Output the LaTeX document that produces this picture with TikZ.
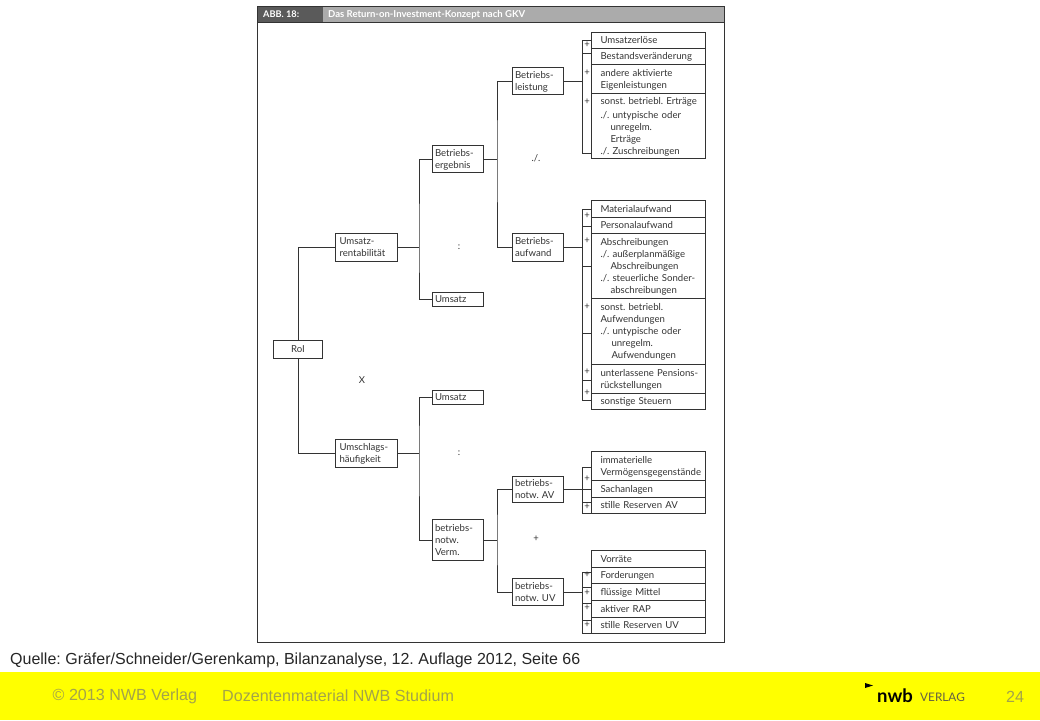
\documentclass[tikz,border=0pt]{standalone}
\usepackage{fontspec}
\setmainfont{Lato}
\newfontfamily\arialfont{Liberation Sans}
\definecolor{inkgray}{HTML}{333333}
\definecolor{footgray}{HTML}{A3A34A}
\definecolor{footyellow}{HTML}{FFFF00}
\definecolor{headdark}{HTML}{5A5A5A}
\definecolor{headlight}{HTML}{ABABAB}
\tikzset{
  link/.style={draw=inkgray,line width=1pt},
  box/.style={draw=inkgray,line width=1pt,anchor=north west,inner sep=0pt,text=inkgray,
    font=\frenchspacing\fontsize{9.6}{12}\selectfont,align=left,
    execute at begin node={\rule{0pt}{10.4pt}},execute at end node=\strut},
  rowbox/.style={box,minimum width=114pt,text width=96pt},
  smalltext/.style={text=inkgray,font=\fontsize{9.5}{12}\selectfont,inner sep=0pt},
}
\begin{document}
\begin{tikzpicture}[x=1pt,y=-1pt]
    \useasboundingbox (0,0) rectangle (1040,720);
    \fill [footyellow] (0,672) rectangle (1040,720);
    % frame and title
    \fill [headdark] (257,6) rectangle (323,22);
    \fill [headlight] (323,6) rectangle (724,22);
    \draw [inkgray,line width=.8pt] (257,6) rectangle (724,642);
    \draw [inkgray,line width=.8pt] (257,22) -- (724,22);
    \node [anchor=west,inner sep=0pt,white,font=\frenchspacing\fontsize{9.2}{11}\bfseries\selectfont] (abb) at (263,14.5) {ABB. 18:};
    \node [anchor=west,inner sep=0pt,white,font=\frenchspacing\fontsize{9.55}{11}\bfseries\selectfont] (title) at (328,14.5) {Das Return-on-Investment-Konzept nach GKV};
    % tree boxes
    \node [box,minimum width=49pt,minimum height=18pt,align=center] (roi) at (273,339.5) {RoI};
    \node [box,minimum width=62pt,minimum height=28pt,text width=54pt] (urent) at (335,233) {Umsatz-\\rentabilität};
    \node [box,minimum width=62pt,minimum height=28pt,text width=54pt] (uhaeu) at (335,439) {Umschlags-\\häufigkeit};
    \node [box,minimum width=51pt,minimum height=27pt,text width=46pt] (berg) at (432,145) {Betriebs-\\ergebnis};
    \node [box,minimum width=51pt,minimum height=14pt,text width=46pt] (umsa) at (432,291.5) {Umsatz};
    \node [box,minimum width=51pt,minimum height=14pt,text width=46pt] (umsb) at (432,390) {Umsatz};
    \node [box,minimum width=51pt,minimum height=41pt,text width=46pt] (verm) at (432,519) {betriebs-\\notw.\\Verm.};
    \node [box,minimum width=51pt,minimum height=27pt,text width=46pt] (blei) at (512,67) {Betriebs-\\leistung};
    \node [box,minimum width=51pt,minimum height=28pt,text width=46pt] (bauf) at (512,233) {Betriebs-\\aufwand};
    \node [box,minimum width=51pt,minimum height=26pt,text width=46pt] (nav) at (512,476) {betriebs-\\notw. AV};
    \node [box,minimum width=51pt,minimum height=27pt,text width=46pt] (nuv) at (512,578) {betriebs-\\notw. UV};
    % first stack
    \node [rowbox,minimum height=16pt] (ra) at (591,32) {Umsatzerlöse};
    \node [rowbox,minimum height=16pt] (rb) at (591,48) {Bestandsveränderung};
    \node [rowbox,minimum height=29pt] (rc) at (591,64) {andere aktivierte\\Eigenleistungen};
    \node [rowbox,minimum height=65pt] (rd) at (591,93) {\mbox{sonst. betriebl. Erträge}\\[2pt]./. untypische oder\\\hspace*{10pt}unregelm.\\\hspace*{10pt}Erträge\\./. Zuschreibungen};
    % second stack
    \node [rowbox,minimum height=17pt] (re) at (591,200) {Materialaufwand};
    \node [rowbox,minimum height=16pt] (rf) at (591,217) {Personalaufwand};
    \node [rowbox,minimum height=65pt] (rg) at (591,233) {Abschreibungen\\./. außerplanmäßige\\\hspace*{10pt}Abschreibungen\\./. steuerliche Sonder-\\\hspace*{10pt}abschreibungen};
    \node [rowbox,minimum height=66pt] (rh) at (591,298) {sonst. betriebl.\\Aufwendungen\\./. untypische oder\\\hspace*{11pt}unregelm.\\\hspace*{11pt}Aufwendungen};
    \node [rowbox,minimum height=29pt] (ri) at (591,364) {\mbox{unterlassene Pensions-}\\rückstellungen};
    \node [rowbox,minimum height=16pt] (rj) at (591,393) {sonstige Steuern};
    % third stack
    \node [rowbox,minimum height=29pt] (rk) at (591,451) {immaterielle\\\mbox{Vermögensgegenstände}};
    \node [rowbox,minimum height=17pt] (rl) at (591,480) {Sachanlagen};
    \node [rowbox,minimum height=16pt] (rm) at (591,497) {stille Reserven AV};
    % fourth stack
    \node [rowbox,minimum height=17pt] (rn) at (591,550) {Vorräte};
    \node [rowbox,minimum height=16pt] (ro) at (591,567) {Forderungen};
    \node [rowbox,minimum height=17pt] (rp) at (591,583) {flüssige Mittel};
    \node [rowbox,minimum height=17pt] (rq) at (591,600) {aktiver RAP};
    \node [rowbox,minimum height=16pt] (rr) at (591,617) {stille Reserven UV};
    % tree connectors
    \coordinate (trunka) at (419,247);
    \coordinate (trunkb) at (419,453);
    \coordinate (trunkc) at (497,158);
    \coordinate (trunkd) at (497,539);
    \draw [link] (urent.west) -| (roi.north);
    \draw [link] (uhaeu.west) -| (roi.south);
    \draw [link] (urent.east) -- (urent.east -| trunka);
    \draw [link] (berg.west) -| (trunka) |- (umsa.west);
    \draw [link] (uhaeu.east) -- (uhaeu.east -| trunkb);
    \draw [link] (umsb.west) -| (trunkb) |- (verm.west);
    \draw [link] (berg.east) -- (berg.east -| trunkc);
    \draw [link] (blei.west) -| (trunkc) |- (bauf.west);
    \draw [link] (verm.east) -- (verm.east -| trunkd);
    \draw [link] (nav.west) -| (trunkd) |- (nuv.west);
    % brackets
    \coordinate (ka) at (582,40);
    \coordinate (kb) at (582,53);
    \coordinate (kc) at (582,153);
    \draw [link] (ka -| ra.west) -- (ka) -- (kc) -- (kc -| rd.west);
    \draw [link] (kb) -- (kb -| ra.west);
    \draw [link] (blei.east) -- (blei.east -| ka);
    \coordinate (kd) at (582,209);
    \coordinate (ke) at (582,226);
    \coordinate (kf) at (582,266);
    \coordinate (kg) at (582,333);
    \coordinate (kh) at (582,380);
    \coordinate (ki) at (582,400);
    \draw [link] (kd -| re.west) -- (kd) -- (ki) -- (ki -| rj.west);
    \draw [link] (ke) -- (ke -| rf.west);
    \draw [link] (kf) -- (kf -| rg.west);
    \draw [link] (kg) -- (kg -| rh.west);
    \draw [link] (kh) -- (kh -| ri.west);
    \draw [link] (bauf.east) -- (bauf.east -| kd);
    \coordinate (kj) at (582,467);
    \coordinate (kk) at (582,502);
    \coordinate (kl) at (582,513);
    \draw [link] (kj -| rk.west) -- (kj) -- (kl) -- (kl -| rm.west);
    \draw [link] (kk) -- (kk -| rm.west);
    \draw [link] (nav.east) -- (nav.east -| rl.west);
    \coordinate (km) at (582,572);
    \coordinate (kn) at (582,587);
    \coordinate (kp) at (582,603);
    \coordinate (kq) at (582,620);
    \coordinate (ko) at (582,633);
    \draw [link] (km -| ro.west) -- (km) -- (ko) -- (ko -| rr.west);
    \draw [link] (kn) -- (kn -| rp.west);
    \draw [link] (kp) -- (kp -| rq.west);
    \draw [link] (kq) -- (kq -| rr.west);
    \draw [link] (nuv.east) -- (nuv.east -| km);
    % plus signs
    \node [smalltext] (pa) at (587,45) {+};
    \node [smalltext] (pb) at (587,73) {+};
    \node [smalltext] (pc) at (587,102) {+};
    \node [smalltext] (pd) at (587,216) {+};
    \node [smalltext] (pe) at (587,241) {+};
    \node [smalltext] (pf) at (587,307) {+};
    \node [smalltext] (pg) at (587,372) {+};
    \node [smalltext] (ph) at (587,393) {+};
    \node [smalltext] (pi) at (587,479) {+};
    \node [smalltext] (pj) at (587,507) {+};
    \node [smalltext] (pk) at (587,575) {+};
    \node [smalltext] (pl) at (587,593) {+};
    \node [smalltext] (pm) at (587,608) {+};
    \node [smalltext] (pn) at (587,625) {+};
    % operators
    \node [smalltext] (opa) at (536,158) {./.};
    \node [smalltext] (opb) at (459,247) {:};
    \node [smalltext] (opc) at (362,380) {X};
    \node [smalltext] (opd) at (459,453) {:};
    \node [smalltext] (ope) at (536,539) {+};
    % source and footer
    \node [anchor=west,inner sep=0pt,black!85,font=\frenchspacing\arialfont\fontsize{16}{18}\selectfont] (quelle) at (10,660.5) {Quelle: Gräfer/Schneider/Gerenkamp, Bilanzanalyse, 12. Auflage 2012, Seite 66};
    \node [anchor=west,inner sep=0pt,footgray,font=\arialfont\fontsize{16.1}{18}\selectfont] (copy) at (52.5,696) {© 2013 NWB Verlag};
    \node [anchor=west,inner sep=0pt,footgray,font=\arialfont\fontsize{16.1}{18}\selectfont] (doz) at (222,696) {Dozentenmaterial NWB Studium};
    \node [anchor=west,inner sep=0pt,footgray,font=\arialfont\fontsize{16.1}{18}\selectfont] (page) at (1006,697) {24};
    \node [anchor=west,inner sep=0pt,black,font=\fontsize{18.5}{20}\bfseries\selectfont] (nwb) at (877,696) {nwb};
    \node [anchor=west,inner sep=0pt,black!70!yellow,font=\fontsize{11.8}{14}\selectfont] (verlag) at (920,697) {VERLAG};
    \fill [black] (865,683) -- (873,685.5) -- (865,688) -- cycle;
\end{tikzpicture}
\end{document}
